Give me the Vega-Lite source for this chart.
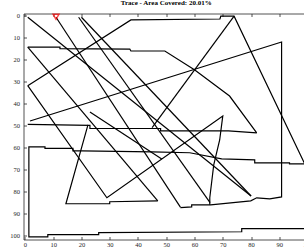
{
  "$schema": "https://vega.github.io/schema/vega-lite/v6.json",
  "width": 285.5,
  "height": 226,
  "autosize": {"type": "none"},
  "padding": {"left": 23.5, "top": 13.5, "right": 0, "bottom": 12.5},
  "background": "white",
  "title": {"text": "Trace - Area Covered: 20.01%", "fontSize": 7, "font": "Liberation Serif", "fontWeight": "bold", "color": "#000000", "offset": 5, "frame": "group", "anchor": "middle"},
  "config": {
    "view": {"stroke": null},
    "axis": {"domainColor": "#262626", "tickColor": "#262626", "labelColor": "#262626", "labelFont": "Liberation Serif", "labelFontSize": 6.5, "tickSize": -3, "grid": false, "domainWidth": 0.8, "tickWidth": 0.8, "labelFlush": false, "labelOverlap": false}
  },
  "datasets": {
    "trace": [
      {"s": 1, "i": 0, "x": 11, "y": 1}, {"s": 1, "i": 1, "x": 55, "y": 87},
      {"s": 2, "i": 0, "x": 1, "y": 1}, {"s": 2, "i": 1, "x": 80, "y": 82},
      {"s": 3, "i": 0, "x": 20, "y": 1}, {"s": 3, "i": 1, "x": 80, "y": 82},
      {"s": 4, "i": 0, "x": 19, "y": 1}, {"s": 4, "i": 1, "x": 65.5, "y": 85},
      {"s": 5, "i": 0, "x": 1, "y": 32}, {"s": 5, "i": 1, "x": 37.5, "y": 2.2}, {"s": 5, "i": 2, "x": 69, "y": 1.8}, {"s": 5, "i": 3, "x": 69.3, "y": 0.5}, {"s": 5, "i": 4, "x": 74, "y": 0.5}, {"s": 5, "i": 5, "x": 100.5, "y": 71.5},
      {"s": 6, "i": 0, "x": 74, "y": 0.5}, {"s": 6, "i": 1, "x": 45, "y": 51},
      {"s": 7, "i": 0, "x": 1, "y": 14.5}, {"s": 7, "i": 1, "x": 12.4, "y": 14.5}, {"s": 7, "i": 2, "x": 12.4, "y": 15.2}, {"s": 7, "i": 3, "x": 37.1, "y": 15.4}, {"s": 7, "i": 4, "x": 37.5, "y": 16.3}, {"s": 7, "i": 5, "x": 49.5, "y": 16.3}, {"s": 7, "i": 6, "x": 60.1, "y": 24.9}, {"s": 7, "i": 7, "x": 72.4, "y": 36.7}, {"s": 7, "i": 8, "x": 82, "y": 53.4},
      {"s": 8, "i": 0, "x": 82, "y": 53.4}, {"s": 8, "i": 1, "x": 72, "y": 52.5}, {"s": 8, "i": 2, "x": 48, "y": 52.5}, {"s": 8, "i": 3, "x": 48, "y": 51.4}, {"s": 8, "i": 4, "x": 23, "y": 51.4}, {"s": 8, "i": 5, "x": 23, "y": 50}, {"s": 8, "i": 6, "x": 1, "y": 49.5},
      {"s": 9, "i": 0, "x": 1, "y": 14.5}, {"s": 9, "i": 1, "x": 47, "y": 84.2},
      {"s": 10, "i": 0, "x": 1, "y": 32}, {"s": 10, "i": 1, "x": 29, "y": 82.8}, {"s": 10, "i": 2, "x": 70, "y": 45.7}, {"s": 10, "i": 3, "x": 68.9, "y": 56.6}, {"s": 10, "i": 4, "x": 66.8, "y": 67.9}, {"s": 10, "i": 5, "x": 65.4, "y": 82.8}, {"s": 10, "i": 6, "x": 65.4, "y": 86},
      {"s": 11, "i": 0, "x": 55, "y": 87.3}, {"s": 11, "i": 1, "x": 59, "y": 86.9}, {"s": 11, "i": 2, "x": 59, "y": 86}, {"s": 11, "i": 3, "x": 65.7, "y": 86}, {"s": 11, "i": 4, "x": 79.9, "y": 84.2}, {"s": 11, "i": 5, "x": 82, "y": 82.8}, {"s": 11, "i": 6, "x": 86.6, "y": 83.3}, {"s": 11, "i": 7, "x": 90.8, "y": 82.4}, {"s": 11, "i": 8, "x": 90.8, "y": 12.2}, {"s": 11, "i": 9, "x": 1.8, "y": 48},
      {"s": 12, "i": 0, "x": 23, "y": 43.9}, {"s": 12, "i": 1, "x": 48.4, "y": 65.2},
      {"s": 13, "i": 0, "x": 22.3, "y": 49.8}, {"s": 13, "i": 1, "x": 14.5, "y": 85.5}, {"s": 13, "i": 2, "x": 30, "y": 85.5}, {"s": 13, "i": 3, "x": 30, "y": 84.6}, {"s": 13, "i": 4, "x": 47, "y": 84.2},
      {"s": 14, "i": 0, "x": 100.5, "y": 67.4}, {"s": 14, "i": 1, "x": 93.6, "y": 67.4}, {"s": 14, "i": 2, "x": 93.6, "y": 67}, {"s": 14, "i": 3, "x": 81.3, "y": 67}, {"s": 14, "i": 4, "x": 81.3, "y": 65.6}, {"s": 14, "i": 5, "x": 69.6, "y": 65.2}, {"s": 14, "i": 6, "x": 58.3, "y": 62.4}, {"s": 14, "i": 7, "x": 44.9, "y": 62}, {"s": 14, "i": 8, "x": 20.1, "y": 61.5}, {"s": 14, "i": 9, "x": 17, "y": 61.5}, {"s": 14, "i": 10, "x": 17, "y": 60.4}, {"s": 14, "i": 11, "x": 7.1, "y": 60.4}, {"s": 14, "i": 12, "x": 7.1, "y": 59.7}, {"s": 14, "i": 13, "x": 1.4, "y": 59.7}, {"s": 14, "i": 14, "x": 1.4, "y": 100.5}, {"s": 14, "i": 15, "x": 8.1, "y": 100.5}, {"s": 14, "i": 16, "x": 8.1, "y": 99.5}, {"s": 14, "i": 17, "x": 26.1, "y": 99.5}, {"s": 14, "i": 18, "x": 26.1, "y": 98.6}, {"s": 14, "i": 19, "x": 76.7, "y": 98.2}, {"s": 14, "i": 20, "x": 76.7, "y": 96.8}, {"s": 14, "i": 21, "x": 100.5, "y": 96.8}
    ],
    "start": [{"x": 11, "y": 0.8}]
  },
  "layer": [
    {
      "data": {"name": "trace"},
      "mark": {"type": "line", "color": "#000000", "strokeWidth": 1.2, "clip": true},
      "encoding": {
        "x": {"field": "x", "type": "quantitative", "scale": {"domain": [-0.5, 100.5], "nice": false, "zero": false}, "axis": {"orient": "bottom", "title": null, "values": [0, 10, 20, 30, 40, 50, 60, 70, 80, 90, 100], "labelPadding": 5, "labelOverlap": false}},
        "y": {"field": "y", "type": "quantitative", "scale": {"domain": [-0.7, 101.7], "nice": false, "zero": false, "reverse": true}, "axis": {"title": null, "values": [0, 10, 20, 30, 40, 50, 60, 70, 80, 90, 100], "labelPadding": 7, "labelOverlap": false}},
        "detail": {"field": "s", "type": "nominal"},
        "order": {"field": "i", "type": "quantitative"}
      }
    },
    {
      "data": {"name": "start"},
      "mark": {"type": "point", "shape": "triangle-down", "color": "#ff0000", "filled": false, "size": 34, "strokeWidth": 1.5},
      "encoding": {
        "x": {"field": "x", "type": "quantitative", "axis": {"orient": "top", "title": null, "labels": false, "values": [0, 10, 20, 30, 40, 50, 60, 70, 80, 90, 100]}},
        "y": {"field": "y", "type": "quantitative", "axis": {"title": null, "values": [0, 10, 20, 30, 40, 50, 60, 70, 80, 90, 100], "labelPadding": 7, "labelOverlap": false}}
      }
    }
  ],
  "resolve": {"axis": {"x": "independent"}}
}
